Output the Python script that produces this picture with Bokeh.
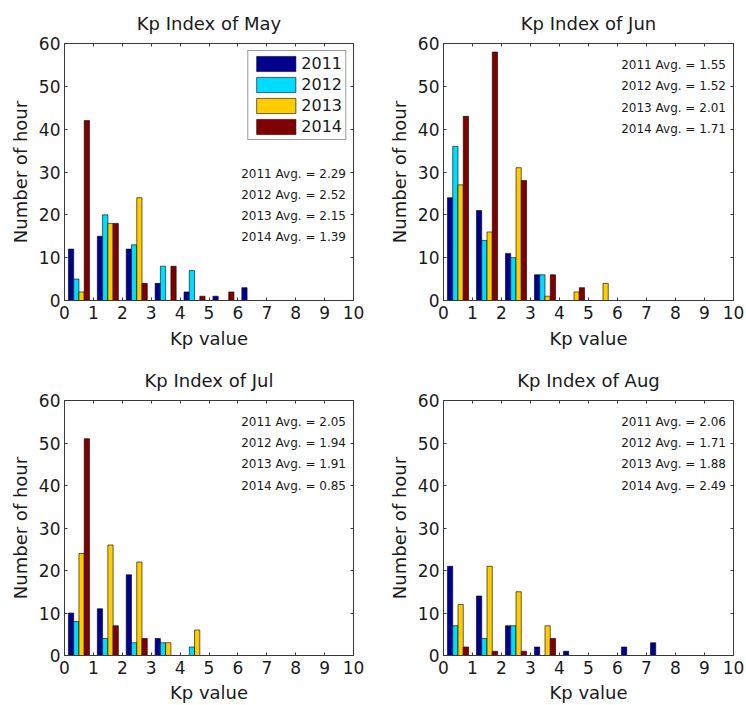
from bokeh.plotting import figure
from bokeh.layouts import gridplot
from bokeh.models import (LinearAxis, FixedTicker, ColumnDataSource, Legend,
                          LegendItem, Range1d, Title)
from bokeh.transform import dodge
from bokeh.core.properties import value
from bokeh.embed import file_html
from bokeh.resources import INLINE

# Hourly Kp histogram: bin centres and the four years compared
kp_bins = [0.5, 1.5, 2.5, 3.5, 4.5, 5.5, 6.5, 7.5, 8.5, 9.5]
years = ["2011", "2012", "2013", "2014"]
x_ticks = [0, 1, 2, 3, 4, 5, 6, 7, 8, 9, 10]
y_ticks = [0, 10, 20, 30, 40, 50, 60]

may_2011 = [12, 15, 12, 4, 2, 1, 3, 0, 0, 0]
may_2012 = [5, 20, 13, 8, 7, 0, 0, 0, 0, 0]
may_2013 = [2, 18, 24, 0, 0, 0, 0, 0, 0, 0]
may_2014 = [42, 18, 4, 8, 1, 2, 0, 0, 0, 0]
may_avg = [2.29, 2.52, 2.15, 1.39]

jun_2011 = [24, 21, 11, 6, 0, 0, 0, 0, 0, 0]
jun_2012 = [36, 14, 10, 6, 0, 0, 0, 0, 0, 0]
jun_2013 = [27, 16, 31, 1, 2, 4, 0, 0, 0, 0]
jun_2014 = [43, 58, 28, 6, 3, 0, 0, 0, 0, 0]
jun_avg = [1.55, 1.52, 2.01, 1.71]

jul_2011 = [10, 11, 19, 4, 0, 0, 0, 0, 0, 0]
jul_2012 = [8, 4, 3, 3, 2, 0, 0, 0, 0, 0]
jul_2013 = [24, 26, 22, 3, 6, 0, 0, 0, 0, 0]
jul_2014 = [51, 7, 4, 0, 0, 0, 0, 0, 0, 0]
jul_avg = [2.05, 1.94, 1.91, 0.85]

aug_2011 = [21, 14, 7, 2, 1, 0, 2, 3, 0, 0]
aug_2012 = [7, 4, 7, 0, 0, 0, 0, 0, 0, 0]
aug_2013 = [12, 21, 15, 7, 0, 0, 0, 0, 0, 0]
aug_2014 = [2, 1, 1, 4, 0, 0, 0, 0, 0, 0]
aug_avg = [2.06, 1.71, 1.88, 2.49]

FONT = "DejaVu Sans"
INK = "#1a1a1a"
FRAME = "#3a3a3a"
COLORS = ["#00008F", "#00DCFF", "#FFCC00", "#800000"]
OFFSETS = [-0.273, -0.091, 0.091, 0.273]
BAR_W = 0.182


def style_axis(ax, labels=True):
    ax.axis_line_color = FRAME
    ax.major_tick_line_color = FRAME
    ax.minor_tick_line_color = None
    ax.major_tick_in = 3
    ax.major_tick_out = 0
    if labels:
        ax.major_label_text_font = FONT
        ax.major_label_text_font_size = "17px"
        ax.major_label_text_color = INK
        ax.axis_label_text_font = FONT
        ax.axis_label_text_font_size = "18px"
        ax.axis_label_text_font_style = "normal"
        ax.axis_label_text_color = INK
    else:
        # tick marks only: no labels on the mirrored top/right axes
        ax.major_label_text_font_size = "1px"
        ax.major_label_text_color = None
        ax.major_label_standoff = 0


def panel(month, series, avgs, borders, height, avg_y, label_gap,
          with_legend=False):
    left, right, top, bottom = borders
    p = figure(width=373, height=height, output_backend="svg",
               toolbar_location=None,
               x_range=Range1d(0, 10), y_range=Range1d(0, 60),
               min_border_left=left, min_border_right=right,
               min_border_top=top, min_border_bottom=bottom)
    p.xgrid.visible = False
    p.ygrid.visible = False
    p.outline_line_color = FRAME
    p.background_fill_color = "white"

    p.xaxis.ticker = FixedTicker(ticks=x_ticks)
    p.yaxis.ticker = FixedTicker(ticks=y_ticks)
    p.xaxis.axis_label = "Kp value"
    p.yaxis.axis_label = "Number of hour"
    style_axis(p.xaxis[0])
    style_axis(p.yaxis[0])
    p.xaxis.major_label_standoff = 5
    p.xaxis.axis_label_standoff = label_gap
    p.yaxis.major_label_standoff = 4
    p.yaxis.axis_label_standoff = 5

    # mirrored tick marks on top and right
    top_ax = LinearAxis(ticker=FixedTicker(ticks=x_ticks))
    right_ax = LinearAxis(ticker=FixedTicker(ticks=y_ticks))
    style_axis(top_ax, labels=False)
    style_axis(right_ax, labels=False)
    p.add_layout(top_ax, "above")
    p.add_layout(right_ax, "right")

    title = Title(text=f"Kp Index of {month}", text_font=FONT,
                  text_font_size="18px", text_font_style="normal",
                  text_color=INK, align="center", vertical_align="bottom",
                  standoff=19)
    p.add_layout(title, "above")

    renderers = []
    for vals, color, off in zip(series, COLORS, OFFSETS):
        src = ColumnDataSource(dict(kp=kp_bins, count=vals))
        r = p.vbar(x=dodge("kp", off, range=p.x_range), top="count", bottom=0,
                   width=BAR_W, source=src, fill_color=color,
                   line_color="black", line_width=0.6)
        renderers.append(r)

    labels = [f"{yr} Avg. = {a:.2f}" for yr, a in zip(years, avgs)]
    p.text(x=[9.74] * 4, y=avg_y, text=labels, text_align="right",
           text_baseline="middle", text_font=value(FONT),
           text_font_size="12px", text_color=INK)

    if with_legend:
        legend = Legend(
            items=[LegendItem(label=yr, renderers=[r])
                   for yr, r in zip(years, renderers)],
            location="top_right", margin=7, padding=3, spacing=2,
            glyph_width=49, glyph_height=19, label_height=19,
            label_standoff=1, label_text_font=FONT,
            label_text_font_size="16px", label_text_color=INK,
            border_line_color=FRAME, border_line_width=1,
            background_fill_color="white", background_fill_alpha=1.0)
        p.add_layout(legend)
    return p


upper_avg_y = [29.6, 24.7, 19.8, 14.9]
top_avg_y = [55.0, 50.0, 45.0, 40.0]

p_may = panel("May", [may_2011, may_2012, may_2013, may_2014], may_avg,
              (64, 20, 43, 53), 353, upper_avg_y, 6, with_legend=True)
p_jun = panel("Jun", [jun_2011, jun_2012, jun_2013, jun_2014], jun_avg,
              (70, 13, 43, 53), 353, top_avg_y, 6)
p_jul = panel("Jul", [jul_2011, jul_2012, jul_2013, jul_2014], jul_avg,
              (64, 20, 47, 48), 352, top_avg_y, 5)
p_aug = panel("Aug", [aug_2011, aug_2012, aug_2013, aug_2014], aug_avg,
              (70, 13, 47, 48), 352, top_avg_y, 5)

grid = gridplot([[p_may, p_jun], [p_jul, p_aug]], toolbar_location=None)

open("out.html", "w").write(file_html(grid, INLINE))
